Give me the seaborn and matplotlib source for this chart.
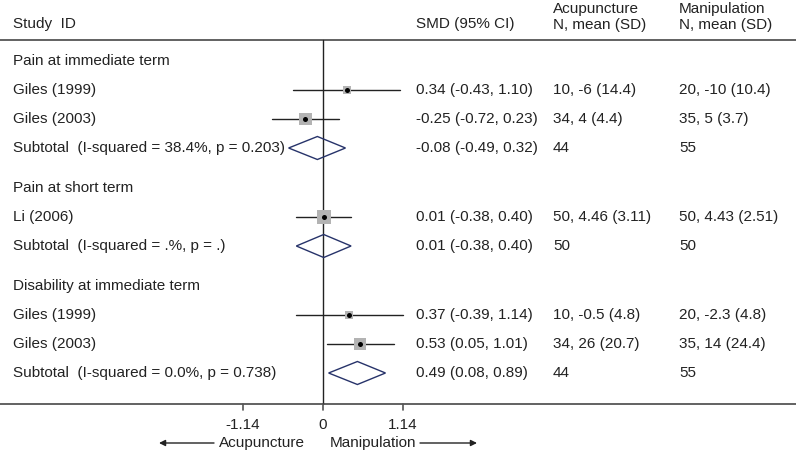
import matplotlib
matplotlib.use("Agg")
import matplotlib.pyplot as plt
import seaborn as sns
import pandas as pd
from matplotlib.patches import Polygon

sns.set_theme(style="white")
plt.rcParams['font.family'] = ['Liberation Sans', 'DejaVu Sans']

# ---- data ----
row_labels = ["Pain at immediate term", "Giles (1999)", "Giles (2003)",
              "Subtotal  (I-squared = 38.4%, p = 0.203)",
              "Pain at short term", "Li (2006)",
              "Subtotal  (I-squared = .%, p = .)",
              "Disability at immediate term", "Giles (1999)", "Giles (2003)",
              "Subtotal  (I-squared = 0.0%, p = 0.738)"]
row_kind = ["head", "study", "study", "sub", "head", "study", "sub",
            "head", "study", "study", "sub"]
smd = [None, 0.34, -0.25, -0.08, None, 0.01, 0.01, None, 0.37, 0.53, 0.49]
lo = [None, -0.43, -0.72, -0.49, None, -0.38, -0.38, None, -0.39, 0.05, 0.08]
hi = [None, 1.10, 0.23, 0.32, None, 0.40, 0.40, None, 1.14, 1.01, 0.89]
smd_text = ["", "0.34 (-0.43, 1.10)", "-0.25 (-0.72, 0.23)", "-0.08 (-0.49, 0.32)",
            "", "0.01 (-0.38, 0.40)", "0.01 (-0.38, 0.40)",
            "", "0.37 (-0.39, 1.14)", "0.53 (0.05, 1.01)", "0.49 (0.08, 0.89)"]
acu_text = ["", "10, -6 (14.4)", "34, 4 (4.4)", "44", "", "50, 4.46 (3.11)", "50",
            "", "10, -0.5 (4.8)", "34, 26 (20.7)", "44"]
man_text = ["", "20, -10 (10.4)", "35, 5 (3.7)", "55", "", "50, 4.43 (2.51)", "50",
            "", "20, -2.3 (4.8)", "35, 14 (24.4)", "55"]
xticks = [-1.14, 0, 1.14]
xtick_labels = ["-1.14", "0", "1.14"]

# ---- layout (pixel geometry) ----
W, H = 796, 451
X0 = 323.0        # pixel of zero
PXU = 70.2        # pixels per unit
row_y = [61, 90, 119, 148, 188, 217, 246, 286, 315, 344, 373]
sq_px = [0, 7.5, 12.5, 0, 0, 14, 0, 0, 8, 12, 0]

def px2x(px):
    return (px - X0) / PXU

fig = plt.figure(figsize=(W / 100, H / 100), dpi=100)
ax = fig.add_axes([0, 0, 1, 1])
ax.set_xlim(px2x(0), px2x(W))
ax.set_ylim(H, 0)
ax.axis("off")

FS = 11
dark = "#222222"
lgray = "#555555"
navy = "#27336a"

# headers
ax.text(px2x(13), 24, "Study  ID", fontsize=FS, va="center", color=dark)
ax.text(px2x(416), 24, "SMD (95% CI)", fontsize=FS, va="center", color=dark)
ax.text(px2x(553), 9, "Acupuncture", fontsize=FS, va="center", color=dark)
ax.text(px2x(553), 24.5, "N, mean (SD)", fontsize=FS, va="center", color=dark)
ax.text(px2x(679), 9, "Manipulation", fontsize=FS, va="center", color=dark)
ax.text(px2x(679), 24.5, "N, mean (SD)", fontsize=FS, va="center", color=dark)

# frame lines
ax.plot([px2x(0), px2x(W)], [40, 40], color=lgray, lw=1.3, solid_capstyle="butt")
ax.plot([px2x(0), px2x(W)], [404, 404], color=lgray, lw=1.3, solid_capstyle="butt")
ax.plot([0, 0], [40, 404], color=dark, lw=1.0)
for t in xticks:
    ax.plot([t, t], [404, 409.5], color=lgray, lw=1.2)
for t, lab in zip(xticks, xtick_labels):
    ax.text(t, 425, lab, fontsize=FS, ha="center", va="center", color=dark)

# bottom arrows
ax.text(px2x(219), 443, "Acupuncture", fontsize=FS, ha="left", va="center", color=dark)
ax.text(px2x(330), 443, "Manipulation", fontsize=FS, ha="left", va="center", color=dark)
ax.annotate("", xy=(px2x(159), 443), xytext=(px2x(214), 443),
            arrowprops=dict(arrowstyle="-|>", color=dark, lw=1.0,
                            mutation_scale=9, shrinkA=0, shrinkB=0))
ax.annotate("", xy=(px2x(477), 443), xytext=(px2x(420), 443),
            arrowprops=dict(arrowstyle="-|>", color=dark, lw=1.0,
                            mutation_scale=9, shrinkA=0, shrinkB=0))

# rows
study_rows = []
for i, kind in enumerate(row_kind):
    y = row_y[i]
    ax.text(px2x(13), y, row_labels[i], fontsize=FS, va="center", color=dark)
    if smd_text[i]:
        ax.text(px2x(416), y, smd_text[i], fontsize=FS, va="center", color=dark)
        ax.text(px2x(553), y, acu_text[i], fontsize=FS, va="center", color=dark)
        ax.text(px2x(679), y, man_text[i], fontsize=FS, va="center", color=dark)
    if kind == "study":
        ax.plot([lo[i], hi[i]], [y, y], color=dark, lw=1.0, zorder=2)
        study_rows.append(dict(x=smd[i], y=y, s=(sq_px[i] * 0.72) ** 2))
    elif kind == "sub":
        hh = 11.5
        poly = Polygon([(lo[i], y), (smd[i], y - hh), (hi[i], y), (smd[i], y + hh)],
                       closed=True, fill=False, edgecolor=navy, lw=1.0, zorder=3)
        ax.add_patch(poly)

df = pd.DataFrame(study_rows)
sns.scatterplot(data=df, x="x", y="y", marker="s", s=df["s"].values, color="#b3b3b3",
                linewidth=0, ax=ax, zorder=3, legend=False)
sns.scatterplot(data=df, x="x", y="y", marker="o", s=13, color="black",
                linewidth=0, ax=ax, zorder=4, legend=False)
ax.set_xlim(px2x(0), px2x(W))
ax.set_ylim(H, 0)
ax.axis("off")

fig.savefig("out.png", dpi=100)
